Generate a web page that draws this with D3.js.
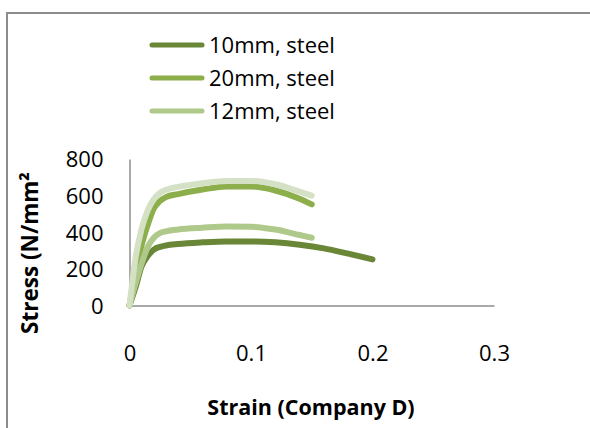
<!DOCTYPE html>
<html>
<head>
<meta charset="utf-8">
<script src="https://cdn.jsdelivr.net/npm/d3@7"></script>
<style>
  html, body { margin: 0; padding: 0; background: #fff; }
  svg { display: block; }
  text { font-family: "Open Sans", sans-serif; fill: #000; }
</style>
</head>
<body>
<svg id="chart" width="590" height="428"></svg>
<script>
// Stress–strain curves, Company D
const seriesNames = ["10mm, steel", "20mm, steel", "12mm, steel", ""];
const seriesColors = ["#6a8637", "#8cae4b", "#afc98a", "#d5e1c4"];

const strain10 = [0, 0.005, 0.01, 0.015, 0.02, 0.025, 0.03, 0.04, 0.06, 0.08, 0.1, 0.12, 0.14, 0.16, 0.18, 0.2];
const stress10 = [0, 100, 215, 270, 305, 320, 328, 336, 345, 350, 350, 345, 332, 312, 283, 252];

const strain20 = [0, 0.005, 0.01, 0.015, 0.02, 0.025, 0.03, 0.04, 0.06, 0.08, 0.1, 0.12, 0.14, 0.15];
const stress20 = [0, 180, 330, 440, 530, 570, 592, 608, 633, 650, 650, 628, 583, 552];

const strain12 = [0, 0.005, 0.01, 0.015, 0.02, 0.025, 0.03, 0.04, 0.06, 0.08, 0.1, 0.12, 0.14, 0.15];
const stress12 = [0, 120, 230, 320, 370, 395, 405, 415, 425, 432, 430, 415, 385, 370];

const strainExtra = [0, 0.005, 0.01, 0.015, 0.02, 0.025, 0.03, 0.04, 0.06, 0.08, 0.1, 0.12, 0.14, 0.15];
const stressExtra = [0, 260, 420, 520, 580, 615, 632, 648, 668, 680, 680, 662, 622, 600];

const xTicks = [0, 0.1, 0.2, 0.3];
const yTicks = [0, 200, 400, 600, 800];

const series = [
  { name: seriesNames[0], color: seriesColors[0], xs: strain10, ys: stress10 },
  { name: seriesNames[1], color: seriesColors[1], xs: strain20, ys: stress20 },
  { name: seriesNames[2], color: seriesColors[2], xs: strain12, ys: stress12 },
  { name: seriesNames[3], color: seriesColors[3], xs: strainExtra, ys: stressExtra }
];

const svg = d3.select("#chart");

// outer frame (top and left edges)
svg.append("line").attr("x1", 7).attr("y1", 13).attr("x2", 590).attr("y2", 13)
  .attr("stroke", "#8c8c8c").attr("stroke-width", 2);
svg.append("line").attr("x1", 7).attr("y1", 12).attr("x2", 7).attr("y2", 428)
  .attr("stroke", "#8c8c8c").attr("stroke-width", 2);

const x = d3.scaleLinear().domain([0, 0.3]).range([129.5, 494]);
const y = d3.scaleLinear().domain([0, 800]).range([305.5, 159]);

// axes
const xAxis = svg.append("g").attr("transform", `translate(0,${y(0)})`)
  .call(d3.axisBottom(x).tickValues(xTicks).tickSize(0).tickPadding(0)
    .tickFormat(d => d === 0 ? "0" : d3.format(".1f")(d)));
xAxis.select(".domain").attr("stroke", "#8c8c8c").attr("stroke-width", 1.5);
xAxis.selectAll("text").attr("dy", null).attr("y", 55)
  .style("font-size", "22px").style("font-family", "'Open Sans', sans-serif").attr("fill", "#000");

const yAxis = svg.append("g").attr("transform", `translate(${x(0)},0)`)
  .call(d3.axisLeft(y).tickValues(yTicks).tickSize(0).tickPadding(0));
yAxis.select(".domain").attr("stroke", "#8c8c8c").attr("stroke-width", 1.5);
yAxis.selectAll("text").attr("x", -26).attr("dy", "0.36em")
  .style("font-size", "22px").style("font-family", "'Open Sans', sans-serif").attr("fill", "#000");

// curves
const line = d3.line().x(d => x(d[0])).y(d => y(d[1])).curve(d3.curveMonotoneX);
series.forEach(s => {
  const pts = s.xs.map((v, i) => [v, s.ys[i]]);
  svg.append("path").datum(pts).attr("d", line)
    .attr("fill", "none").attr("stroke", s.color).attr("stroke-width", 6)
    .attr("stroke-linecap", "round").attr("stroke-linejoin", "round");
});

// legend
const legendRows = [45, 78, 111];
series.slice(0, 3).forEach((s, i) => {
  const g = svg.append("g").attr("transform", `translate(0,${legendRows[i]})`);
  g.append("line").attr("x1", 152).attr("x2", 202).attr("y1", 0).attr("y2", 0)
    .attr("stroke", s.color).attr("stroke-width", 5).attr("stroke-linecap", "round");
  g.append("text").attr("x", 209).attr("y", 0).attr("dy", "0.35em")
    .style("font-size", "22px").text(s.name);
});

// axis titles
svg.append("text").attr("x", 311).attr("y", 415).attr("text-anchor", "middle")
  .style("font-size", "21.5px").style("font-weight", "bold").text("Strain (Company D)");

svg.append("text").attr("transform", "translate(38,253) rotate(-90)").attr("text-anchor", "middle")
  .style("font-size", "22.5px").style("font-weight", "bold").text("Stress (N/mm²");
</script>
</body>
</html>
